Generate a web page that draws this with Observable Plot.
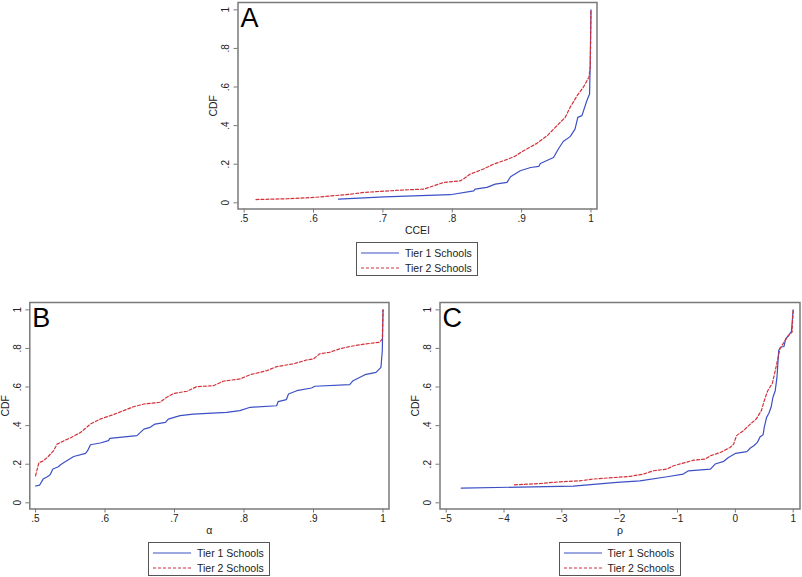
<!DOCTYPE html>
<html>
<head>
<meta charset="utf-8">
<script src="https://cdn.jsdelivr.net/npm/d3@7"></script>
<script src="https://cdn.jsdelivr.net/npm/@observablehq/plot@0.6"></script>
<style>
  html, body { margin: 0; padding: 0; background: #fff; }
  #root { position: relative; width: 802px; height: 577px; font-family: "Liberation Sans", Arial, sans-serif; }
  .panel { position: absolute; }
  .legend { position: absolute; width: 122px; height: 34px; border: 1px solid #555; box-sizing: border-box; background: #fff; font-size: 10.5px; color: #222; }
  .legend .row { position: absolute; left: 4px; display: flex; align-items: center; height: 14px; }
  .legend svg { margin-right: 6px; }
</style>
</head>
<body>
<div id="root"></div>
<script>
// ---------- data ----------
const seriesNames = ["Tier 1 Schools", "Tier 2 Schools"];
const yTicks = [0, 0.2, 0.4, 0.6, 0.8, 1];

// Panel A: CCEI
const aTier1X = [0.636,0.702,0.797,0.831,0.833,0.850,0.862,0.879,0.884,0.898,0.913,0.925,0.927,0.946,0.953,0.960,0.970,0.977,0.981,0.987,0.994,0.998,0.999,1.0];
const aTier1Y = [0.019,0.031,0.042,0.062,0.071,0.080,0.097,0.106,0.135,0.166,0.183,0.189,0.204,0.235,0.279,0.318,0.343,0.382,0.443,0.452,0.529,0.564,0.737,1.0];
const aTier2X = [0.517,0.562,0.601,0.654,0.673,0.726,0.759,0.773,0.788,0.812,0.826,0.845,0.860,0.874,0.889,0.903,0.922,0.937,0.951,0.963,0.970,0.980,0.989,0.997,0.999,1.0];
const aTier2Y = [0.017,0.021,0.028,0.045,0.054,0.066,0.071,0.088,0.106,0.114,0.149,0.175,0.201,0.218,0.239,0.270,0.308,0.348,0.400,0.443,0.495,0.555,0.599,0.651,0.702,1.0];
const aXTicks = [0.5, 0.6, 0.7, 0.8, 0.9, 1];

// Panel B: alpha
const bTier1X = [0.500,0.506,0.511,0.517,0.521,0.525,0.533,0.536,0.541,0.555,0.572,0.575,0.579,0.593,0.605,0.607,0.646,0.651,0.656,0.665,0.672,0.687,0.691,0.708,0.727,0.775,0.794,0.809,0.847,0.849,0.861,0.864,0.876,0.897,0.902,0.952,0.957,0.974,0.990,0.997,0.999,1.0];
const bTier1Y = [0.087,0.092,0.123,0.135,0.145,0.175,0.187,0.197,0.209,0.240,0.256,0.270,0.301,0.310,0.322,0.334,0.348,0.365,0.382,0.391,0.408,0.417,0.434,0.452,0.460,0.469,0.478,0.495,0.503,0.524,0.535,0.564,0.581,0.595,0.604,0.612,0.633,0.664,0.676,0.702,0.789,1.0];
const bTier2X = [0.500,0.505,0.510,0.517,0.526,0.531,0.543,0.550,0.565,0.579,0.593,0.612,0.627,0.641,0.656,0.679,0.689,0.699,0.718,0.732,0.756,0.770,0.794,0.809,0.833,0.847,0.871,0.890,0.900,0.909,0.923,0.938,0.952,0.976,0.995,0.999,1.0];
const bTier2Y = [0.140,0.209,0.215,0.235,0.270,0.304,0.325,0.336,0.365,0.408,0.434,0.457,0.478,0.498,0.512,0.521,0.547,0.567,0.578,0.602,0.607,0.630,0.642,0.664,0.685,0.706,0.720,0.740,0.746,0.772,0.780,0.798,0.810,0.824,0.832,0.849,1.0];
const bXTicks = [0.5, 0.6, 0.7, 0.8, 0.9, 1];

// Panel C: rho
const cTier1X = [-4.74,-3.50,-2.80,-2.05,-1.65,-1.18,-0.90,-0.81,-0.43,-0.35,-0.20,-0.12,0.00,0.20,0.26,0.32,0.38,0.43,0.48,0.50,0.54,0.58,0.62,0.65,0.69,0.72,0.75,0.78,0.84,0.87,0.92,0.97,1.00];
const cTier1Y = [0.076,0.083,0.087,0.106,0.114,0.135,0.149,0.166,0.175,0.201,0.215,0.235,0.256,0.265,0.284,0.296,0.313,0.343,0.353,0.391,0.443,0.464,0.498,0.547,0.581,0.651,0.789,0.806,0.810,0.849,0.867,0.889,1.0];
const cTier2X = [-3.82,-3.38,-3.03,-2.69,-2.46,-2.11,-1.82,-1.59,-1.42,-1.18,-1.07,-0.90,-0.72,-0.52,-0.43,-0.26,-0.09,-0.03,0.02,0.14,0.26,0.36,0.45,0.50,0.56,0.64,0.69,0.74,0.77,0.84,0.92,0.98,1.00];
const cTier2Y = [0.093,0.100,0.109,0.114,0.123,0.131,0.137,0.149,0.166,0.175,0.192,0.206,0.221,0.227,0.244,0.261,0.287,0.304,0.348,0.374,0.408,0.434,0.478,0.529,0.581,0.619,0.685,0.754,0.798,0.832,0.867,0.884,1.0];
const cXTicks = [-5, -4, -3, -2, -1, 0, 1];

// ---------- styling ----------
const blue = "#3c50c4";
const red = "#d2323a";
const frameColor = "#7a7a7a";
const fmtFrac = d => d === 0 ? "0" : d === 1 ? "1" : d3.format(".1f")(d).replace(/^0/, "");
const fmtInt = d => d < 0 ? "\u2212" + Math.abs(d) : String(d);

const root = document.getElementById("root");

function toRows(xs, ys) { return xs.map((x, i) => ({x, y: ys[i]})); }

function panel({letter, xLabel, t1x, t1y, t2x, t2y, xTicks, xFmt, xDomain, left, top, width, mL, mR, legendLeft}) {
  const height = 240;
  const chart = Plot.plot({
    width, height,
    marginLeft: mL, marginRight: mR, marginTop: 2, marginBottom: 31.5,
    style: {fontFamily: '"Liberation Sans", Arial, sans-serif', fontSize: "10px", color: "#222", background: "transparent"},
    x: {domain: xDomain, ticks: xTicks},
    y: {domain: [-0.032, 1.038], ticks: yTicks},
    marks: [
      Plot.axisX({ticks: xTicks, tickFormat: xFmt, tickSize: 4, tickPadding: 2, stroke: frameColor, label: null}),
      Plot.axisY({ticks: yTicks, tickFormat: () => "", tickSize: 4, stroke: frameColor, label: null}),
      Plot.text(yTicks, {y: d => d, text: fmtFrac, frameAnchor: "left", dx: -12, rotate: -90, textAnchor: "middle", fontSize: 10, fill: "#222"}),
      Plot.line(toRows(t1x, t1y), {x: "x", y: "y", stroke: blue, strokeWidth: 1.2}),
      Plot.line(toRows(t2x, t2y), {x: "x", y: "y", stroke: red, strokeWidth: 1.2, strokeDasharray: "3,2"}),
      Plot.frame({stroke: frameColor, strokeWidth: 1.5}),
      Plot.text([letter], {frameAnchor: "top-left", dx: 2.5, dy: 5, lineAnchor: "top", fontSize: 27, fill: "#000"}),
      Plot.text([xLabel], {frameAnchor: "bottom", dy: 21.5, lineAnchor: "middle", fontSize: 10.5, fill: "#222"}),
      Plot.text(["CDF"], {frameAnchor: "left", dx: -24, rotate: -90, textAnchor: "middle", lineAnchor: "middle", fontSize: 10.5, fill: "#222"})
    ]
  });
  const wrap = document.createElement("div");
  wrap.className = "panel";
  wrap.style.left = left + "px";
  wrap.style.top = top + "px";
  wrap.appendChild(chart);
  root.appendChild(wrap);

  const leg = document.createElement("div");
  leg.className = "legend";
  leg.style.left = legendLeft + "px";
  leg.style.top = (top + 242) + "px";
  const styles = [{stroke: blue, dash: ""}, {stroke: red, dash: "3,2"}];
  seriesNames.forEach((name, i) => {
    const row = document.createElement("div");
    row.className = "row";
    row.style.top = (3 + i * 14.5) + "px";
    row.innerHTML = `<svg width="38" height="6"><line x1="0" x2="38" y1="3" y2="3" stroke="${styles[i].stroke}" stroke-width="1.2" ${styles[i].dash ? `stroke-dasharray="${styles[i].dash}"` : ""}/></svg><span>${name}</span>`;
    leg.appendChild(row);
  });
  root.appendChild(leg);
}

panel({letter: "A", xLabel: "CCEI", t1x: aTier1X, t1y: aTier1Y, t2x: aTier2X, t2y: aTier2Y,
  xTicks: aXTicks, xFmt: fmtFrac, xDomain: [0.4911, 1.0087], left: 190, top: 0, width: 420, mL: 47.5, mR: 13.5, legendLeft: 356});
panel({letter: "B", xLabel: "\u03b1", t1x: bTier1X, t1y: bTier1Y, t2x: bTier2X, t2y: bTier2Y,
  xTicks: bXTicks, xFmt: fmtFrac, xDomain: [0.4918, 1.0086], left: 0, top: 300, width: 400, mL: 29.3, mR: 11.5, legendLeft: 148});
panel({letter: "C", xLabel: "\u03c1", t1x: cTier1X, t1y: cTier1Y, t2x: cTier2X, t2y: cTier2Y,
  xTicks: cXTicks, xFmt: fmtInt, xDomain: [-5.107, 1.118], left: 400, top: 300, width: 402, mL: 39.5, mR: 2.5, legendLeft: 558.5});
</script>
</body>
</html>
